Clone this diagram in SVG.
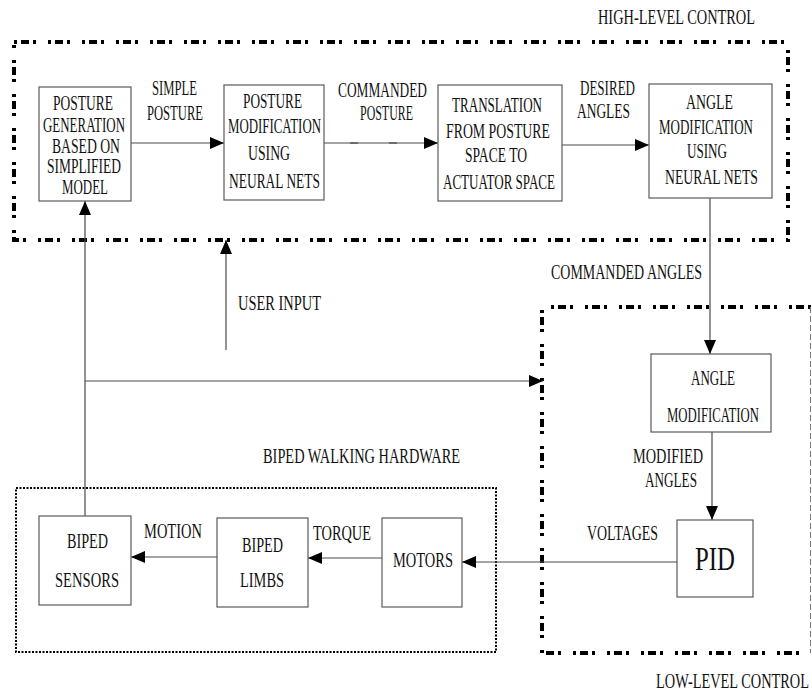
<svg xmlns="http://www.w3.org/2000/svg" width="812" height="696" viewBox="0 0 812 696">
<defs>
<marker id="ah" markerUnits="userSpaceOnUse" markerWidth="14" markerHeight="12" viewBox="0 0 14 12" refX="14" refY="6" orient="auto">
<path d="M0,0 L14,6 L0,12 Z" fill="#000"/>
</marker>
</defs>
<style>
text{font-family:"Liberation Serif","Times New Roman",serif;font-size:20px;fill:#111;}
.pid{font-size:33px;}
.node rect{fill:#fff;stroke:#5a5a5a;stroke-width:1.2;}
.conn line,.conn path{stroke:#4a4a4a;stroke-width:1.2;fill:none;}
.grp{fill:none;stroke:#000;stroke-width:4;stroke-dasharray:3 4 8 4 3 12;}
.hw{fill:none;stroke:#000;stroke-width:2;stroke-dasharray:2 1.5;}
</style>
<rect width="812" height="696" fill="#fff"/>

<g id="groups">
<rect class="grp" x="14" y="42" width="774" height="198"/>
<path class="grp" d="M811,307 H542 V653 H811"/>
<line x1="810.5" y1="307" x2="810.5" y2="653" stroke="#777" stroke-width="1" stroke-dasharray="6 3"/>
<rect class="hw" x="16" y="488" width="480" height="164"/>
<text x="598" y="24" textLength="157" lengthAdjust="spacingAndGlyphs">HIGH-LEVEL CONTROL</text>
<text x="656" y="688" textLength="153" lengthAdjust="spacingAndGlyphs">LOW-LEVEL CONTROL</text>
<text x="263" y="463" textLength="197" lengthAdjust="spacingAndGlyphs">BIPED WALKING HARDWARE</text>
</g>

<g id="connectors" class="conn">
<line x1="131" y1="143" x2="224" y2="143" marker-end="url(#ah)"/>
<line x1="324" y1="143" x2="438" y2="143" marker-end="url(#ah)"/>
<line x1="350" y1="143" x2="358" y2="143" stroke-width="2"/>
<line x1="389" y1="143" x2="397" y2="143" stroke-width="2"/>
<line x1="562" y1="145" x2="649" y2="145" marker-end="url(#ah)"/>
<line x1="710" y1="198" x2="710" y2="354" marker-end="url(#ah)"/>
<line x1="712" y1="432" x2="712" y2="520" marker-end="url(#ah)"/>
<line x1="677" y1="562" x2="462" y2="562" marker-end="url(#ah)"/>
<line x1="382" y1="558" x2="308" y2="558" marker-end="url(#ah)"/>
<line x1="217" y1="557" x2="131" y2="557" stroke-width="2" marker-end="url(#ah)"/>
<line x1="85" y1="516" x2="85" y2="201" marker-end="url(#ah)"/>
<line x1="85" y1="381" x2="543" y2="381" marker-end="url(#ah)"/>
<line x1="226" y1="350" x2="226" y2="240" marker-end="url(#ah)"/>
</g>

<g id="labels">
<text x="152" y="95" textLength="45" lengthAdjust="spacingAndGlyphs">SIMPLE</text>
<text x="147" y="120" textLength="56" lengthAdjust="spacingAndGlyphs">POSTURE</text>
<text x="338" y="97" textLength="89" lengthAdjust="spacingAndGlyphs">COMMANDED</text>
<text x="360" y="120" textLength="53" lengthAdjust="spacingAndGlyphs">POSTURE</text>
<text x="580" y="95" textLength="55" lengthAdjust="spacingAndGlyphs">DESIRED</text>
<text x="577" y="118" textLength="53" lengthAdjust="spacingAndGlyphs">ANGLES</text>
<text x="551" y="279" textLength="151" lengthAdjust="spacingAndGlyphs">COMMANDED  ANGLES</text>
<text x="238" y="310" textLength="83" lengthAdjust="spacingAndGlyphs">USER INPUT</text>
<text x="633" y="463" textLength="70" lengthAdjust="spacingAndGlyphs">MODIFIED</text>
<text x="645" y="487" textLength="52" lengthAdjust="spacingAndGlyphs">ANGLES</text>
<text x="587" y="540" textLength="71" lengthAdjust="spacingAndGlyphs">VOLTAGES</text>
<text x="144" y="538" textLength="58" lengthAdjust="spacingAndGlyphs">MOTION</text>
<text x="313" y="540" textLength="58" lengthAdjust="spacingAndGlyphs">TORQUE</text>
</g>

<g id="posture-generation" class="node">
<rect x="39" y="87" width="92" height="114"/>
<text x="53" y="110" textLength="60" lengthAdjust="spacingAndGlyphs">POSTURE</text>
<text x="43" y="132" textLength="82" lengthAdjust="spacingAndGlyphs">GENERATION</text>
<text x="52" y="153" textLength="68" lengthAdjust="spacingAndGlyphs">BASED ON</text>
<text x="47" y="173" textLength="74" lengthAdjust="spacingAndGlyphs">SIMPLIFIED</text>
<text x="62" y="194" textLength="46" lengthAdjust="spacingAndGlyphs">MODEL</text>
</g>

<g id="posture-modification" class="node">
<rect x="224" y="85" width="100" height="115"/>
<text x="243" y="108" textLength="59" lengthAdjust="spacingAndGlyphs">POSTURE</text>
<text x="228" y="133" textLength="93" lengthAdjust="spacingAndGlyphs">MODIFICATION</text>
<text x="248" y="160" textLength="42" lengthAdjust="spacingAndGlyphs">USING</text>
<text x="229" y="188" textLength="91" lengthAdjust="spacingAndGlyphs">NEURAL NETS</text>
</g>

<g id="translation" class="node">
<rect x="438" y="85" width="124" height="116"/>
<text x="452" y="112" textLength="90" lengthAdjust="spacingAndGlyphs">TRANSLATION</text>
<text x="446" y="138" textLength="104" lengthAdjust="spacingAndGlyphs">FROM  POSTURE</text>
<text x="465" y="162" textLength="62" lengthAdjust="spacingAndGlyphs">SPACE TO</text>
<text x="443" y="189" textLength="112" lengthAdjust="spacingAndGlyphs">ACTUATOR SPACE</text>
</g>

<g id="angle-modification-nn" class="node">
<rect x="649" y="84" width="123" height="114"/>
<text x="686" y="109" textLength="47" lengthAdjust="spacingAndGlyphs">ANGLE</text>
<text x="659" y="134" textLength="94" lengthAdjust="spacingAndGlyphs">MODIFICATION</text>
<text x="687" y="158" textLength="40" lengthAdjust="spacingAndGlyphs">USING</text>
<text x="665" y="184" textLength="93" lengthAdjust="spacingAndGlyphs">NEURAL NETS</text>
</g>

<g id="angle-modification" class="node">
<rect x="651" y="354" width="120" height="78"/>
<text x="691" y="385" textLength="44" lengthAdjust="spacingAndGlyphs">ANGLE</text>
<text x="667" y="422" textLength="92" lengthAdjust="spacingAndGlyphs">MODIFICATION</text>
</g>

<g id="pid" class="node">
<rect x="677" y="520" width="76" height="77"/>
<text class="pid" x="695" y="570" textLength="40" lengthAdjust="spacingAndGlyphs">PID</text>
</g>

<g id="biped-sensors" class="node">
<rect x="39" y="516" width="92" height="89"/>
<text x="67" y="548" textLength="41" lengthAdjust="spacingAndGlyphs">BIPED</text>
<text x="55" y="587" textLength="64" lengthAdjust="spacingAndGlyphs">SENSORS</text>
</g>

<g id="biped-limbs" class="node">
<rect x="217" y="518" width="91" height="89"/>
<text x="242" y="552" textLength="41" lengthAdjust="spacingAndGlyphs">BIPED</text>
<text x="240" y="587" textLength="44" lengthAdjust="spacingAndGlyphs">LIMBS</text>
</g>

<g id="motors" class="node">
<rect x="382" y="518" width="80" height="89"/>
<text x="393" y="567" textLength="60" lengthAdjust="spacingAndGlyphs">MOTORS</text>
</g>
</svg>
